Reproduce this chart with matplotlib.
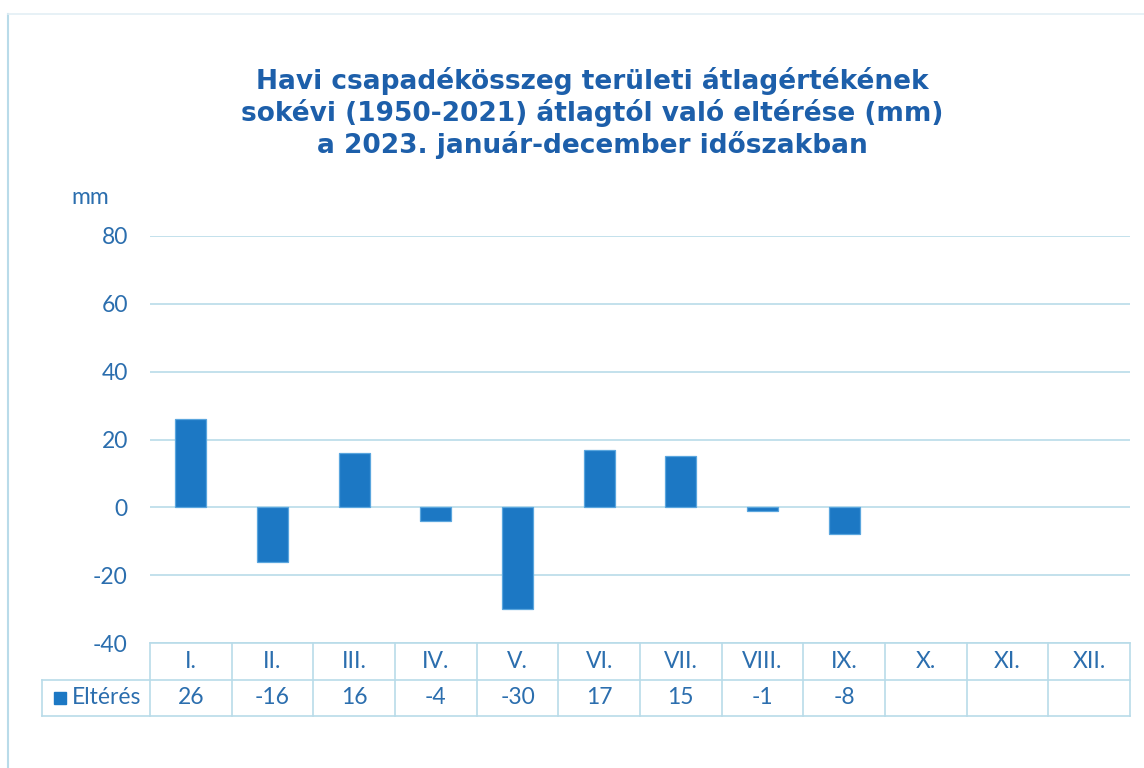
import numpy as np
import matplotlib
matplotlib.use('Agg')
import matplotlib.pyplot as plt
from matplotlib.transforms import blended_transform_factory

# Adatok
honapok = ['I.', 'II.', 'III.', 'IV.', 'V.', 'VI.', 'VII.', 'VIII.', 'IX.', 'X.', 'XI.', 'XII.']
elteres = [26, -16, 16, -4, -30, 17, 15, -1, -8, None, None, None]
y_ticks = [-40, -20, 0, 20, 40, 60, 80]
sorozat_nev = 'Eltérés'
cim = ('Havi csapadékösszeg területi átlagértékének\n'
       'sokévi (1950-2021) átlagtól való eltérése (mm)\n'
       'a 2023. január-december időszakban')

bar_color = '#1c78c4'
text_color = '#2b6eae'
title_color = '#1d5faa'
grid_color = '#b9dbe9'
fs = 16.5

plt.rcParams['font.family'] = ['Lato', 'DejaVu Sans']

fig = plt.figure(figsize=(11.44, 7.68), dpi=100)
W, H = 1144, 768
ax = fig.add_axes([150 / W, (H - 643) / H, 980 / W, 407 / H])

x = np.arange(len(honapok))
vals = np.array([np.nan if v is None else v for v in elteres], dtype=float)
ax.bar(x, vals, width=0.38, color=bar_color, edgecolor='#5aa6de', linewidth=0.9, zorder=3)

ax.set_xlim(-0.5, len(honapok) - 0.5)
ax.set_ylim(-40, 80)
ax.set_yticks(y_ticks)
ax.set_yticklabels([str(t) for t in y_ticks], fontsize=fs, color=text_color)
ax.tick_params(axis='y', length=0, pad=16)
ax.set_xticks([])
ax.yaxis.grid(True, color=grid_color, linewidth=1.2, zorder=0)
for s in ax.spines.values():
    s.set_visible(False)

# y tengely felirat
fig.text(90 / W, 1 - 198 / H, 'mm', fontsize=fs, color=text_color, ha='center', va='center')

# Cím
fig.text(592 / W, 1 - 113 / H, cim, fontsize=19, fontweight='bold', color=title_color,
         ha='center', va='center', family='DejaVu Sans', linespacing=1.2)

# Adattábla a tengely alatt
tr = blended_transform_factory(ax.transData, ax.transAxes)
row1 = -37 / 407
row2 = -73 / 407
label_left = -0.5 - 108 / (980 / len(honapok))
lc = grid_color
lw = 1.2
n = len(honapok)
ax.plot([-0.5, n - 0.5], [0, 0], color=lc, lw=lw, transform=tr, clip_on=False)
ax.plot([label_left, n - 0.5], [row1, row1], color=lc, lw=lw, transform=tr, clip_on=False)
ax.plot([label_left, n - 0.5], [row2, row2], color=lc, lw=lw, transform=tr, clip_on=False)
ax.plot([label_left, label_left], [row1, row2], color=lc, lw=lw, transform=tr, clip_on=False)
for k in range(n + 1):
    ax.plot([k - 0.5, k - 0.5], [0, row2], color=lc, lw=lw, transform=tr, clip_on=False)

for i, h in enumerate(honapok):
    ax.text(i, row1 / 2, h, ha='center', va='center', fontsize=fs, color=text_color,
            transform=tr, clip_on=False)
    if elteres[i] is not None:
        ax.text(i, (row1 + row2) / 2, str(elteres[i]), ha='center', va='center',
                fontsize=fs, color=text_color, transform=tr, clip_on=False)

# Jelmagyarázat a táblázat sorában
ax.plot([label_left + 0.22], [(row1 + row2) / 2], marker='s', markersize=9, color=bar_color,
        transform=tr, clip_on=False)
ax.text(label_left + 0.37, (row1 + row2) / 2, sorozat_nev, ha='left', va='center',
        fontsize=fs, color=text_color, transform=tr, clip_on=False)

# Diagram kerete
fig.add_artist(plt.Line2D([8 / W, 8 / W], [0, 1 - 14 / H], color=grid_color, lw=1.5))
fig.add_artist(plt.Line2D([8 / W, 1], [1 - 14 / H, 1 - 14 / H], color='#e3eff5', lw=1.2))

fig.savefig('out.png', dpi=100, facecolor='white')
